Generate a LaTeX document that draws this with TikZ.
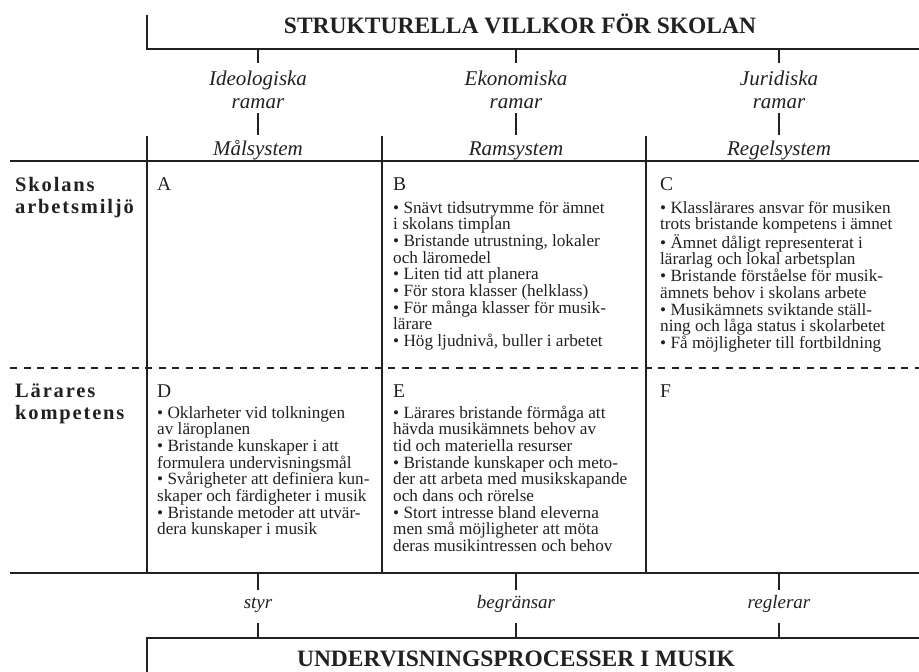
\documentclass[tikz,border=0pt]{standalone}
\usepackage{fontspec}
\setmainfont{Liberation Serif}
\newfontfamily\labelfont[LetterSpace=9]{Liberation Serif}
\definecolor{ink}{gray}{0.13}
\newcommand{\bodyfont}{\fontsize{17.2}{16.7}\selectfont\lineskiplimit=-20pt\relax}

\tikzset{
  rule/.style={line width=1.8pt, draw=ink},
  dashrule/.style={line width=1.4pt, draw=ink, dash pattern=on 7pt off 6.5pt},
  tick/.style={line width=1.8pt, draw=ink},
  titletext/.style={font=\fontsize{23.5}{26}\selectfont\bfseries, text=ink, inner sep=0, anchor=base},
  frametext/.style={font=\fontsize{21}{23}\selectfont\itshape, text=ink, inner sep=0, anchor=base},
  verbtext/.style={font=\fontsize{19}{21}\selectfont\itshape, text=ink, inner sep=0, anchor=base},
  rowlabel/.style={font=\labelfont\bfseries\fontsize{20.5}{22}\selectfont, text=ink, inner sep=0, anchor=base west},
  cellletter/.style={font=\fontsize{19.5}{20}\selectfont, text=ink, inner sep=0, anchor=base west},
  cellbody/.style={font=\bodyfont, text=ink, inner sep=0, anchor=base west},
}
\newcommand{\stack}[1]{\parbox[t]{300pt}{\raggedright #1}}
\newcommand{\cstack}[1]{\parbox[t]{160pt}{\centering #1}}

\begin{document}
\begin{tikzpicture}[x=1pt, y=-1pt]
\useasboundingbox (0,0) rectangle (919,672);

% --- top block: structural conditions
\node[titletext] (top) at (520,33) {STRUKTURELLA VILLKOR FÖR SKOLAN};
\coordinate (topcorner) at (147,15);
\coordinate (topleft) at (147,49);
\coordinate (topright) at (919,49);
\draw[rule] (topcorner) -- (topleft) -- (topright);

% --- the three frames
\node[frametext] (ideo) at (258,85) {\cstack{Ideologiska\\ramar}};
\node[frametext] (eko)  at (516,85) {\cstack{Ekonomiska\\ramar}};
\node[frametext] (jur)  at (779,85) {\cstack{Juridiska\\ramar}};
\node[frametext] (mal) at (258,155) {Målsystem};
\node[frametext] (ram) at (516,155) {Ramsystem};
\node[frametext] (reg) at (779,155) {Regelsystem};

\foreach \n/\x in {ideo/258, eko/516, jur/779}{
  \coordinate (\n-a) at (\x,49);
  \coordinate (\n-b) at (\x,63);
  \coordinate (\n-c) at (\x,113);
  \coordinate (\n-d) at (\x,135);
  \draw[tick] (\n-a) -- (\n-b);
  \draw[tick] (\n-c) -- (\n-d);
}

% --- grid
\coordinate (h1l) at (10,161);  \coordinate (h1r) at (919,161);
\coordinate (h2l) at (10,368);  \coordinate (h2r) at (919,368);
\coordinate (h3l) at (10,573);  \coordinate (h3r) at (919,573);
\draw[rule] (h1l) -- (h1r);
\draw[dashrule] (h2l) -- (h2r);
\draw[rule] (h3l) -- (h3r);
\foreach \n/\x in {v1/147, v2/382, v3/646}{
  \coordinate (\n-t) at (\x,136);
  \coordinate (\n-b) at (\x,573);
  \draw[rule] (\n-t) -- (\n-b);
}

% --- row labels
\node[rowlabel] (rowA) at (15,191) {\parbox[t]{130pt}{Skolans\\arbetsmiljö}};
\node[rowlabel] (rowB) at (15,397) {\parbox[t]{130pt}{Lärares\\kompetens}};

% --- cells
\node[cellletter] (A) at (157,190) {A};
\node[cellletter] (B) at (393,190) {B};
\node[cellletter] (C) at (660,190) {C};
\node[cellletter] (D) at (157,397) {D};
\node[cellletter] (E) at (393,397) {E};
\node[cellletter] (F) at (660,397) {F};

\node[cellbody] (Bt) at (393,213) {\stack{%
• Snävt tidsutrymme för ämnet\\
i skolans timplan\\
• Bristande utrustning, lokaler\\
och läromedel\\
• Liten tid att planera\\
• För stora klasser (helklass)\\
• För många klasser för musik-\\
lärare\\
• Hög ljudnivå, buller i arbetet}};

\node[cellbody] (Ct) at (660,213) {\stack{%
• Klasslärares ansvar för musiken\\
trots bristande kompetens i ämnet\\
• Ämnet dåligt representerat i\\
lärarlag och lokal arbetsplan\\
• Bristande förståelse för musik-\\
ämnets behov i skolans arbete\\
• Musikämnets sviktande ställ-\\
ning och låga status i skolarbetet\\
• Få möjligheter till fortbildning}};

\node[cellbody] (Dt) at (157,418) {\stack{%
• Oklarheter vid tolkningen\\
av läroplanen\\
• Bristande kunskaper i att\\
formulera undervisningsmål\\
• Svårigheter att definiera kun-\\
skaper och färdigheter i musik\\
• Bristande metoder att utvär-\\
dera kunskaper i musik}};

\node[cellbody] (Et) at (393,418) {\stack{%
• Lärares bristande förmåga att\\
hävda musikämnets behov av\\
tid och materiella resurser\\
• Bristande kunskaper och meto-\\
der att arbeta med musikskapande\\
och dans och rörelse\\
• Stort intresse bland eleverna\\
men små möjligheter att möta\\
deras musikintressen och behov}};

% --- effects on teaching
\node[verbtext] (styr) at (258,608) {styr};
\node[verbtext] (begr) at (516,608) {begränsar};
\node[verbtext] (regl) at (779,608) {reglerar};
\foreach \n/\x in {styr/258, begr/516, regl/779}{
  \coordinate (\n-a) at (\x,573);
  \coordinate (\n-b) at (\x,590);
  \coordinate (\n-c) at (\x,623);
  \coordinate (\n-d) at (\x,638);
  \draw[tick] (\n-a) -- (\n-b);
  \draw[tick] (\n-c) -- (\n-d);
}

% --- bottom block: teaching processes
\coordinate (botleft) at (147,638);
\coordinate (botright) at (919,638);
\coordinate (botcorner) at (147,672);
\draw[rule] (botright) -- (botleft) -- (botcorner);
\node[titletext] (bottom) at (516,666.5) {UNDERVISNINGSPROCESSER I MUSIK};
\end{tikzpicture}
\end{document}
